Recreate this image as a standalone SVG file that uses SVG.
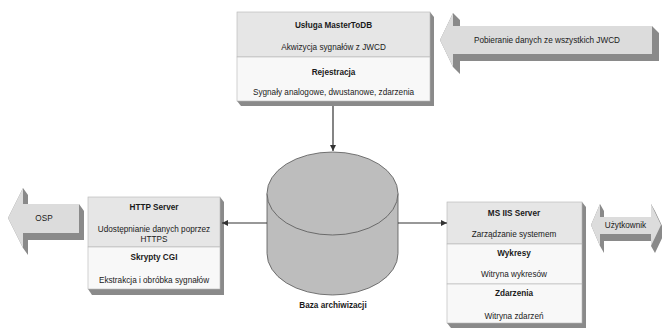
<svg xmlns="http://www.w3.org/2000/svg" width="662" height="329" viewBox="0 0 662 329">
<defs>
<style>
text{font-family:"Liberation Sans",Arial,sans-serif;font-size:8.2px;fill:#1a1a1a;text-anchor:middle}
.b{font-weight:bold}
.ext{fill:#8a8a8a}
.face{fill:#dcdcdc}
.hd{fill:#e6e6e6;stroke:#b4b4b4;stroke-width:0.6}
.bd{fill:#f8f8f8;stroke:#b4b4b4;stroke-width:0.6}
.con{stroke:#333;stroke-width:1.2;fill:none}
</style>
<marker id="ah" viewBox="0 0 10 10" refX="10" refY="5" markerWidth="6" markerHeight="6" markerUnits="userSpaceOnUse" orient="auto">
<path d="M0,0L10,5L0,10z" fill="#333"/>
</marker>
</defs>
<rect width="662" height="329" fill="#fff"/>

<g id="pobieranie">
<polygon class="ext" points="440,40 453,13 460,20 460,26 652,26 659,33 659,61 460,61 460,74 453,67"/>
<polygon class="face" points="440,40 453,13 453,26 652,26 652,54 453,54 453,67"/>
<text x="547" y="43">Pobieranie danych ze wszystkich JWCD</text>
</g>

<g id="osp">
<polygon class="ext" points="8,218 23,188 28,195 28,204 79,204 84,211 84,240 28,240 28,255 23,248"/>
<polygon class="face" points="8,218 23,188 23,204 79,204 79,233 23,233 23,248"/>
<text x="44" y="221">OSP</text>
</g>

<g id="uzytkownik">
<polygon class="ext" points="591,225 600,204 604,211 604,217 651,217 651,204 655,211 665,232 655,253 651,246 651,241 604,241 604,253 600,246"/>
<polygon class="face" points="591,225 600,204 600,217 651,217 651,204 661,225 651,246 651,234 600,234 600,246"/>
<text x="625.5" y="228">Użytkownik</text>
</g>

<g id="mastertodb">
<polygon class="ext" points="430,12 434,17 434,106 241,106 237,101"/>
<rect class="hd" x="237" y="12" width="193" height="45"/>
<rect class="bd" x="237" y="57" width="193" height="44"/>
<text class="b" x="333.5" y="28">Usługa MasterToDB</text>
<text x="333.5" y="49.5">Akwizycja sygnałów z JWCD</text>
<text class="b" x="333.5" y="75">Rejestracja</text>
<text x="333.5" y="94.5">Sygnały analogowe, dwustanowe, zdarzenia</text>
</g>

<g id="http">
<polygon class="ext" points="220,197 224,202 224,295 92,295 88,289"/>
<rect class="hd" x="88" y="197" width="132" height="50"/>
<rect class="bd" x="88" y="247" width="132" height="42"/>
<text class="b" x="154" y="210">HTTP Server</text>
<text x="154" y="232">Udostępnianie danych poprzez</text>
<text x="154" y="242">HTTPS</text>
<text class="b" x="154" y="260">Skrypty CGI</text>
<text x="154" y="282.5">Ekstrakcja i obróbka sygnałów</text>
</g>

<g id="msiis">
<polygon class="ext" points="582,202 586,207 586,328 451,328 447,323"/>
<rect class="hd" x="447" y="202" width="135" height="42"/>
<rect class="bd" x="447" y="244" width="135" height="40"/>
<rect class="bd" x="447" y="284" width="135" height="39"/>
<text class="b" x="514" y="216">MS IIS Server</text>
<text x="514" y="237">Zarządzanie systemem</text>
<text class="b" x="514" y="256">Wykresy</text>
<text x="514" y="277">Witryna wykresów</text>
<text class="b" x="514" y="296">Zdarzenia</text>
<text x="514" y="319">Witryna zdarzeń</text>
</g>

<g id="baza">
<path d="M267,193.5 V253.5 A65.5,41.5 0 0 0 398,253.5 V193.5" fill="#bdbdbd" stroke="#555" stroke-width="0.8"/>
<ellipse cx="332.5" cy="193.5" rx="65.5" ry="41.5" fill="#bdbdbd" stroke="#555" stroke-width="0.8"/>
<text class="b" x="333" y="308">Baza archiwizacji</text>
</g>

<g id="connectors">
<line class="con" x1="333" y1="106" x2="333" y2="151" marker-end="url(#ah)"/>
<line class="con" x1="267" y1="223" x2="222" y2="223" marker-end="url(#ah)"/>
<line class="con" x1="398" y1="223" x2="447" y2="223" marker-end="url(#ah)"/>
</g>
</svg>
